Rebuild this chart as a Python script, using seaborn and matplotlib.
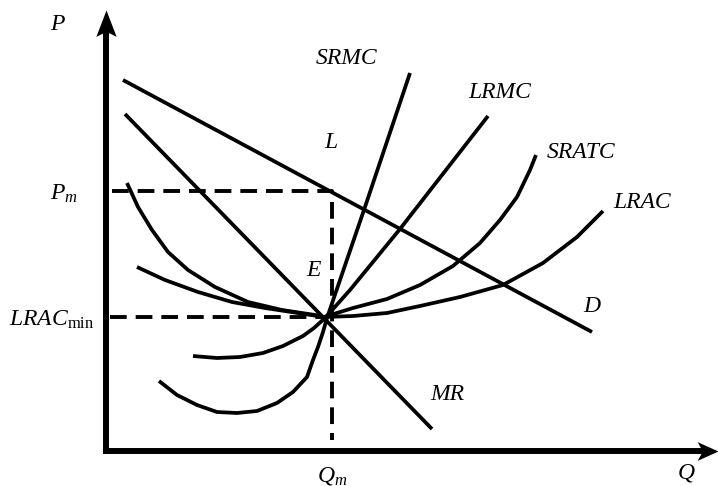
# Long-run / short-run cost curves of a monopoly (P vs Q)
import numpy as np
import pandas as pd
import seaborn as sns
import matplotlib.pyplot as plt
from matplotlib.path import Path

sns.set_style('white')
plt.rcParams['font.family'] = ['Liberation Serif', 'DejaVu Serif']
plt.rcParams['mathtext.fontset'] = 'custom'
plt.rcParams['mathtext.rm'] = 'Liberation Serif'
plt.rcParams['mathtext.it'] = 'Liberation Serif:italic'

# ==========================================
# Curve data
# ==========================================

d_q = [0.34, 9.72]
d_p = [7.42, 2.38]

mr_q = [0.38, 6.52]
mr_p = [6.74, 0.44]

srmc_q = [1.06, 1.42, 1.82, 2.22, 2.62, 3.02, 3.42, 3.74, 4.02, 4.14, 4.24,
          4.34, 4.42, 5.18, 6.08]
srmc_p = [1.40, 1.12, 0.92, 0.78, 0.76, 0.80, 0.96, 1.18, 1.48, 1.82, 2.08,
          2.38, 2.66, 4.88, 7.56]

lrmc_q = [1.74, 2.22, 2.68, 3.14, 3.54, 3.94, 4.16, 4.38, 4.88, 5.88, 7.64]
lrmc_p = [1.90, 1.86, 1.88, 1.96, 2.10, 2.30, 2.46, 2.66, 3.22, 4.44, 6.70]

sratc_q = [0.42, 0.64, 0.92, 1.24, 1.64, 2.18, 2.84, 3.52, 4.18, 4.36, 4.94,
           5.62, 6.28, 6.94, 7.48, 7.88, 8.22, 8.48, 8.60]
sratc_p = [5.36, 4.88, 4.42, 3.98, 3.62, 3.28, 2.98, 2.82, 2.72, 2.68, 2.86,
           3.04, 3.32, 3.70, 4.16, 4.62, 5.08, 5.62, 5.92]

lrac_q = [0.62, 1.18, 1.84, 2.52, 3.18, 3.84, 4.36, 4.94, 5.62, 6.28, 7.08,
          7.94, 8.74, 9.42, 9.94]
lrac_p = [3.68, 3.42, 3.18, 2.98, 2.86, 2.76, 2.68, 2.70, 2.76, 2.90, 3.08,
          3.32, 3.76, 4.28, 4.80]

# key levels
q_m = 4.52
p_m = 5.20
q_e = 4.36
lrac_min = 2.68

curves = {
    'D': (d_q, d_p),
    'MR': (mr_q, mr_p),
    'SRMC': (srmc_q, srmc_p),
    'LRMC': (lrmc_q, lrmc_p),
    'SRATC': (sratc_q, sratc_p),
    'LRAC': (lrac_q, lrac_p),
}

# ==========================================
# Figure
# ==========================================

fig = plt.figure(figsize=(7.18, 4.86), dpi=100)
ax = fig.add_axes([0, 0, 1, 1])
ax.set_xlim(-2.12, 12.24)
ax.set_ylim(-0.70, 9.02)
ax.axis('off')

for name, (q, p) in curves.items():
    df = pd.DataFrame({'Q': q, 'P': p})
    sns.lineplot(data=df, x='Q', y='P', sort=False, estimator=None,
                 color='black', lw=2.7, ax=ax,
                 solid_capstyle='butt', solid_joinstyle='round')

# dashed guides
ax.plot([0.12, q_m, q_m], [p_m, p_m, 0.22], color='black', lw=2.8,
        linestyle=(0, (4.3, 2.3)), dash_capstyle='butt')
ax.plot([0.08, q_e], [lrac_min, lrac_min], color='black', lw=2.8,
        linestyle=(0, (4.3, 2.3)), dash_capstyle='butt')

# axes: one thick L-shaped line plus notched arrow heads
ax.plot([0, 0, 11.95], [8.5, 0, 0], color='black', lw=4.3,
        solid_joinstyle='miter', solid_capstyle='butt')
head_up = Path([(0, 0), (-10, -26), (0, -21), (10, -26), (0, 0)])
head_right = Path([(0, 0), (-20, 9), (-15, 0), (-20, -9), (0, 0)])
ax.plot([0], [8.82], marker=head_up, ms=38, color='black', mew=0,
        clip_on=False)
ax.plot([12.24], [0], marker=head_right, ms=30, color='black', mew=0,
        clip_on=False)

# ==========================================
# Labels
# ==========================================

fs = 17
lab = dict(fontsize=fs, ha='center', va='center', color='black')
ax.text(-0.98, 8.52, 'P', style='italic', **lab)
ax.text(11.6, -0.44, 'Q', style='italic', **lab)
ax.text(4.82, 7.84, 'SRMC', style='italic', **lab)
ax.text(7.88, 7.16, 'LRMC', style='italic', **lab)
ax.text(9.50, 5.96, 'SRATC', style='italic', **lab)
ax.text(10.72, 4.96, 'LRAC', style='italic', **lab)
ax.text(4.50, 6.18, 'L', style='italic', **lab)
ax.text(4.14, 3.60, 'E', style='italic', **lab)
ax.text(9.72, 2.88, 'D', style='italic', **lab)
ax.text(6.82, 1.12, 'MR', style='italic', **lab)
ax.text(-0.84, 5.14, r'$P_m$', **lab)
ax.text(-1.08, 2.62, r'$LRAC_{\mathrm{min}}$', **lab)
ax.text(4.52, -0.50, r'$Q_m$', **lab)

plt.savefig('out.png', dpi=100)
